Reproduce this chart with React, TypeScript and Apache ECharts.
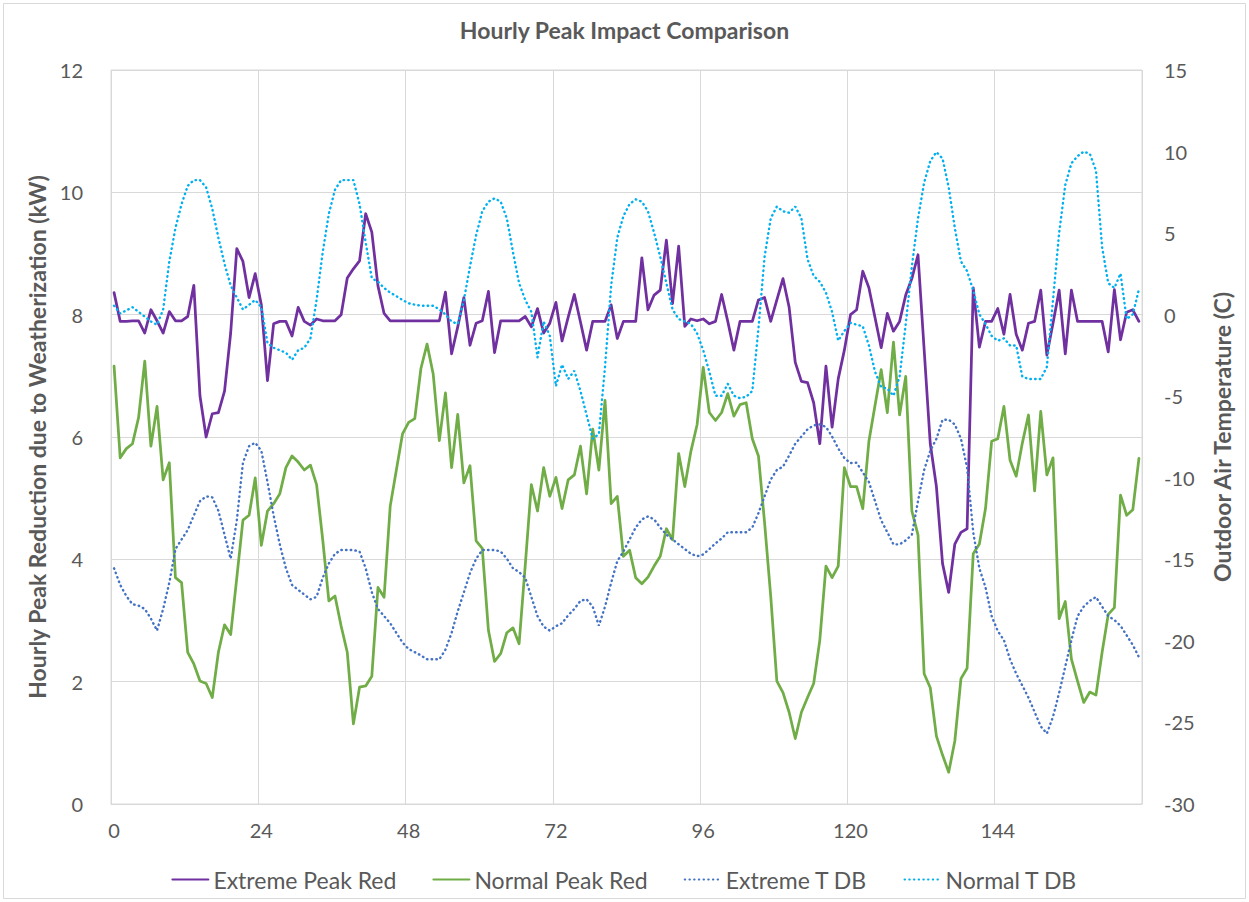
import React, { useEffect, useRef } from "react";
import * as echarts from "echarts";

const TITLE = "Hourly Peak Impact Comparison";
const LEFT_AXIS_NAME = "Hourly Peak Reduction due to Weatherization (kW)";
const RIGHT_AXIS_NAME = "Outdoor Air Temperature (C)";
const SERIES_NAMES = ["Extreme Peak Red", "Normal Peak Red", "Extreme T DB", "Normal T DB"];

// hour categories 0..167
const HOURS: string[] = Array.from({ length: 168 }, (_, i) => String(i));

const EXTREME_PEAK_RED = [
  8.36, 7.89, 7.89, 7.9, 7.9, 7.7, 8.08, 7.9, 7.7, 8.05, 7.9, 7.9, 7.97, 8.48, 6.67, 6.0, 6.38, 6.4, 6.75, 7.7,
  9.08, 8.87, 8.28, 8.67, 8.16, 6.92, 7.85, 7.89, 7.89, 7.65, 8.12, 7.89, 7.83, 7.93, 7.9, 7.9, 7.9, 8.0, 8.6, 8.75,
  8.88, 9.65, 9.35, 8.47, 8.02, 7.9, 7.9, 7.9, 7.9, 7.9, 7.9, 7.9, 7.9, 7.9, 8.37, 7.36, 7.8, 8.28, 7.5, 7.86,
  7.9, 8.38, 7.38, 7.9, 7.9, 7.9, 7.9, 7.97, 7.8, 8.1, 7.7, 7.86, 8.2, 7.57, 7.96, 8.33, 7.88, 7.42, 7.89, 7.89,
  7.89, 8.16, 7.61, 7.89, 7.89, 7.89, 8.93, 8.08, 8.32, 8.4, 9.22, 8.18, 9.12, 7.81, 7.93, 7.9, 7.93, 7.85, 7.89, 8.33,
  7.89, 7.42, 7.89, 7.89, 7.89, 8.24, 8.28, 7.89, 8.24, 8.59, 8.12, 7.22, 6.91, 6.89, 6.56, 5.89, 7.16, 6.16, 6.95, 7.42,
  8.0, 8.08, 8.71, 8.44, 7.95, 7.46, 8.02, 7.73, 7.89, 8.32, 8.59, 8.98, 7.43, 5.89, 5.19, 3.93, 3.46, 4.25, 4.44, 4.5,
  8.44, 7.47, 7.89, 7.89, 8.1, 7.68, 8.33, 7.68, 7.42, 7.86, 7.89, 8.4, 7.34, 7.86, 8.4, 7.36, 8.4, 7.89, 7.89, 7.89,
  7.89, 7.89, 7.39, 8.41, 7.59, 8.04, 8.08, 7.89,
];

const NORMAL_PEAK_RED = [
  7.16, 5.66, 5.81, 5.89, 6.32, 7.24, 5.85, 6.5, 5.3, 5.58, 3.7, 3.62, 2.48, 2.29, 2.01, 1.97, 1.74, 2.48, 2.93, 2.77,
  3.7, 4.64, 4.72, 5.33, 4.23, 4.79, 4.91, 5.07, 5.5, 5.69, 5.59, 5.46, 5.54, 5.22, 4.32, 3.32, 3.4, 2.91, 2.48, 1.31,
  1.91, 1.93, 2.09, 3.54, 3.38, 4.87, 5.46, 6.05, 6.24, 6.3, 7.12, 7.52, 7.03, 5.94, 6.72, 5.5, 6.37, 5.25, 5.53, 4.3,
  4.18, 2.84, 2.33, 2.46, 2.8, 2.88, 2.62, 3.9, 5.22, 4.79, 5.5, 5.03, 5.34, 4.83, 5.3, 5.38, 5.85, 5.07, 6.13, 5.46,
  6.6, 4.91, 5.03, 4.05, 4.15, 3.7, 3.6, 3.71, 3.89, 4.05, 4.5, 4.32, 5.73, 5.19, 5.77, 6.2, 7.14, 6.4, 6.27, 6.4,
  6.71, 6.34, 6.53, 6.56, 5.97, 5.69, 4.6, 3.4, 2.01, 1.82, 1.5, 1.07, 1.5, 1.74, 1.97, 2.68, 3.89, 3.7, 3.89, 5.5,
  5.19, 5.19, 4.83, 5.93, 6.52, 7.1, 6.4, 7.55, 6.36, 6.99, 4.79, 4.4, 2.13, 1.9, 1.11, 0.8, 0.52, 1.03, 2.05, 2.22,
  4.09, 4.25, 4.83, 5.93, 5.97, 6.5, 5.62, 5.36, 5.9, 6.36, 5.12, 6.42, 5.38, 5.66, 3.03, 3.31, 2.37, 2.01, 1.66, 1.83,
  1.78, 2.48, 3.1, 3.21, 5.05, 4.72, 4.81, 5.65,
];

const EXTREME_T_DB = [
  -15.55, -16.57, -17.25, -17.75, -17.84, -18.04, -18.63, -19.37, -18.04, -16.43, -14.37, -13.78, -13.2, -12.31, -11.43, -11.14, -11.2, -12.02, -13.49, -14.96,
  -12.61, -9.08, -8.06, -7.85, -8.35, -10.26, -12.31, -14.08, -15.55, -16.57, -16.87, -17.16, -17.45, -17.3, -16.13, -15.25, -14.66, -14.43, -14.43, -14.43,
  -14.52, -15.55, -17.02, -18.04, -18.48, -18.92, -19.51, -20.1, -20.5, -20.69, -20.89, -21.13, -21.13, -21.13, -20.54, -19.51, -18.19, -17.02, -15.84, -14.96,
  -14.43, -14.43, -14.43, -14.52, -14.96, -15.55, -15.78, -16.13, -17.31, -18.48, -19.13, -19.37, -19.1, -18.92, -18.43, -18.04, -17.54, -17.45, -17.9, -19.07,
  -17.9, -16.43, -15.11, -14.52, -13.78, -13.05, -12.55, -12.37, -12.55, -13.05, -13.49, -13.78, -14.08, -14.37, -14.66, -14.81, -14.7, -14.37, -14.02, -13.72,
  -13.34, -13.34, -13.34, -13.34, -13.05, -12.17, -11.14, -10.11, -9.52, -9.32, -8.64, -7.91, -7.47, -7.03, -6.79, -6.73, -6.88, -7.47, -8.2, -8.79,
  -9.1, -9.08, -9.67, -10.26, -11.43, -12.61, -13.34, -14.08, -14.08, -13.84, -13.49, -11.43, -9.52, -8.35, -7.61, -6.44, -6.44, -6.73, -7.61, -9.38,
  -13.34, -15.55, -16.72, -18.48, -19.4, -19.95, -21.13, -22.01, -22.74, -23.48, -24.36, -25.24, -25.68, -24.65, -23.18, -21.57, -19.95, -18.48, -17.9, -17.54,
  -17.31, -17.9, -18.48, -18.72, -19.07, -19.66, -20.25, -21.0,
];

const NORMAL_T_DB = [
  0.55, 0.08, 0.26, 0.46, 0.17, -0.12, -0.42, -0.62, 0.32, 3.26, 5.31, 6.78, 7.9, 8.25, 8.25, 7.81, 6.49, 4.72, 3.11, 1.79,
  1.05, 0.32, 0.61, 0.9, 0.46, -1.74, -2.03, -2.18, -2.33, -2.77, -2.18, -2.03, -1.45, 0.9, 3.84, 6.19, 7.66, 8.25, 8.25, 8.25,
  6.78, 4.43, 2.23, 2.02, 1.64, 1.35, 1.14, 0.9, 0.7, 0.61, 0.55, 0.55, 0.55, 0.32, 0.02, -0.42, -0.57, 0.9, 2.96, 4.87,
  6.34, 6.93, 7.13, 6.93, 5.9, 3.84, 1.93, 0.9, 0.17, -2.62, -0.42, -1.3, -4.38, -3.06, -3.94, -3.44, -4.68, -6.15, -7.61, -7.32,
  -3.2, 1.79, 4.72, 6.05, 6.78, 7.07, 6.93, 6.34, 5.02, 3.55, 1.93, 0.32, -0.27, -0.42, -0.57, -1.15, -2.18, -3.5, -4.97, -4.97,
  -4.24, -4.97, -5.12, -5.03, -4.68, -0.86, 3.55, 5.9, 6.63, 6.34, 6.25, 6.63, 5.9, 3.4, 2.37, 2.02, 1.35, 0.17, -1.59, -1.0,
  -0.5, -0.62, -0.71, -1.89, -3.5, -4.44, -4.53, -4.97, -3.8, -0.57, 2.96, 5.9, 8.1, 9.42, 9.97, 9.57, 7.81, 5.31, 3.26, 2.67,
  1.49, 0.02, -0.57, -1.3, -1.6, -1.45, -1.89, -1.89, -3.8, -3.94, -3.94, -3.94, -3.2, 0.9, 5.02, 7.96, 9.28, 9.72, 10.0, 9.86,
  8.84, 4.14, 1.93, 1.64, 2.52, -0.27, 0.02, 1.55,
];

const COLORS = ["#7030A0", "#70AD47", "#4472C4", "#00B0F0"];
const TEXT_COLOR = "#595959";
const GRID_COLOR = "#d9d9d9";
const FONT = "Lato, 'Open Sans', 'Liberation Sans', sans-serif";

export default function App() {
  const ref = useRef<HTMLDivElement>(null);

  useEffect(() => {
    if (!ref.current) return;
    const chart = echarts.init(ref.current, null, { renderer: "svg" });
    const solid = (color: string) => ({ color, width: 2.75, join: "round" as const, cap: "round" as const });
    const dotted = (color: string) => ({ color, width: 2.4, type: [0.5, 4.2], cap: "round" as const });

    chart.setOption({
      animation: false,
      backgroundColor: "#ffffff",
      textStyle: { fontFamily: FONT },
      title: {
        text: TITLE,
        left: "center",
        top: 13,
        textStyle: { fontFamily: FONT, fontSize: 23, fontWeight: "bold", color: TEXT_COLOR },
      },
      graphic: [
        {
          type: "rect",
          shape: { x: 3.5, y: 3.5, width: 1242, height: 895 },
          style: { fill: "none", stroke: GRID_COLOR, lineWidth: 1 },
          silent: true,
        },
      ],
      legend: {
        top: 863,
        left: "center",
        itemWidth: 36,
        itemHeight: 14,
        itemGap: 36,
        itemStyle: { opacity: 0 },
        textStyle: { fontFamily: FONT, fontSize: 23, color: TEXT_COLOR },
        data: SERIES_NAMES,
      },
      grid: {
        left: 111,
        right: 107,
        top: 70,
        bottom: 98,
        show: true,
        borderColor: GRID_COLOR,
        borderWidth: 1,
      },
      xAxis: {
        type: "category",
        data: HOURS,
        boundaryGap: true,
        axisLine: { show: true, lineStyle: { color: GRID_COLOR } },
        axisTick: { show: false },
        axisLabel: { interval: 23, fontSize: 20, color: TEXT_COLOR, margin: 16, fontFamily: FONT },
        splitLine: { show: true, interval: 23, lineStyle: { color: GRID_COLOR, width: 1 } },
      },
      yAxis: [
        {
          type: "value",
          min: 0,
          max: 12,
          interval: 2,
          name: LEFT_AXIS_NAME,
          nameLocation: "middle",
          nameGap: 58,
          nameRotate: 90,
          nameTextStyle: { fontFamily: FONT, fontSize: 23, fontWeight: "bold", color: TEXT_COLOR },
          axisLine: { show: false },
          axisTick: { show: false },
          axisLabel: { fontSize: 20, color: TEXT_COLOR, margin: 28, fontFamily: FONT },
          splitLine: { show: true, lineStyle: { color: GRID_COLOR, width: 1 } },
        },
        {
          type: "value",
          position: "right",
          min: -30,
          max: 15,
          interval: 5,
          name: RIGHT_AXIS_NAME,
          nameLocation: "middle",
          nameGap: 68,
          nameRotate: 90,
          nameTextStyle: { fontFamily: FONT, fontSize: 23, fontWeight: "bold", color: TEXT_COLOR },
          axisLine: { show: false },
          axisTick: { show: false },
          axisLabel: { fontSize: 20, color: TEXT_COLOR, margin: 22, fontFamily: FONT },
          splitLine: { show: false },
        },
      ],
      series: [
        {
          name: SERIES_NAMES[0],
          type: "line",
          data: EXTREME_PEAK_RED,
          yAxisIndex: 0,
          symbol: "none",
          color: COLORS[0],
          lineStyle: solid(COLORS[0]),
        },
        {
          name: SERIES_NAMES[1],
          type: "line",
          data: NORMAL_PEAK_RED,
          yAxisIndex: 0,
          symbol: "none",
          color: COLORS[1],
          lineStyle: solid(COLORS[1]),
        },
        {
          name: SERIES_NAMES[2],
          type: "line",
          data: EXTREME_T_DB,
          yAxisIndex: 1,
          symbol: "none",
          color: COLORS[2],
          lineStyle: dotted(COLORS[2]),
        },
        {
          name: SERIES_NAMES[3],
          type: "line",
          data: NORMAL_T_DB,
          yAxisIndex: 1,
          symbol: "none",
          color: COLORS[3],
          lineStyle: dotted(COLORS[3]),
        },
      ],
    });
    return () => chart.dispose();
  }, []);

  return (
    <div
      ref={ref}
      style={{ position: "fixed", left: 0, top: 0, width: 1249, height: 902, background: "#fff" }}
    />
  );
}
